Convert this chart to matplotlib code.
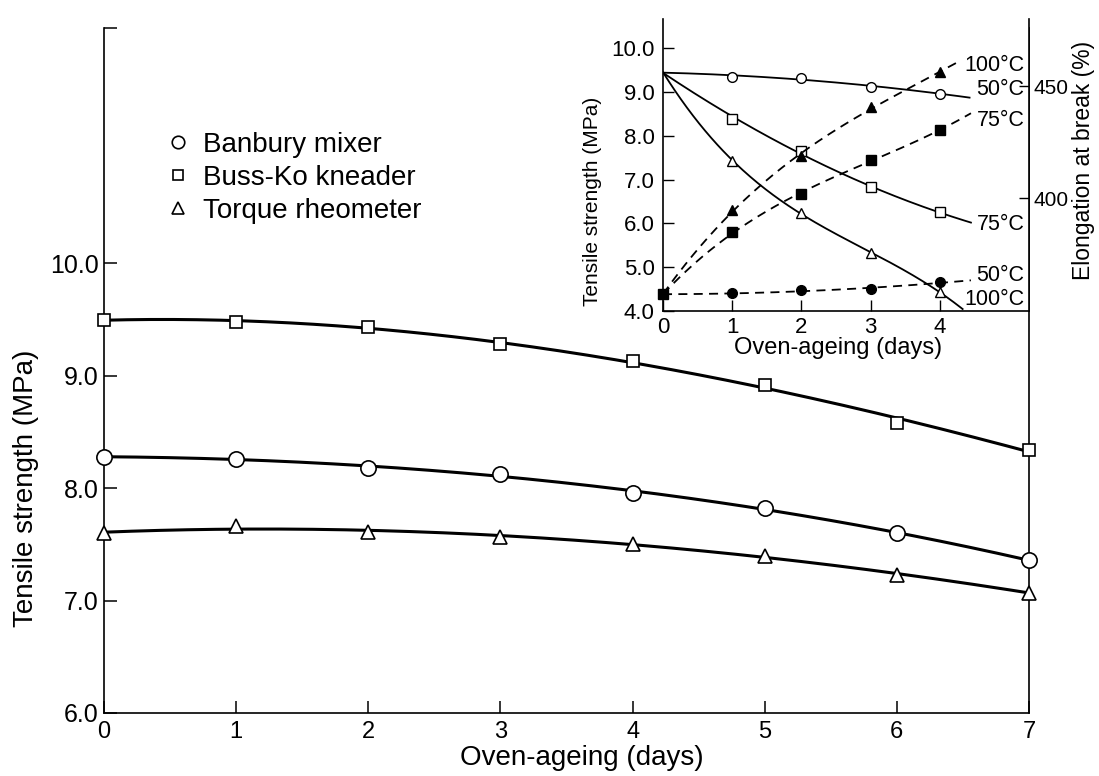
import numpy as np
import matplotlib.pyplot as plt
from matplotlib.lines import Line2D

plt.rcParams['font.family'] = ['Liberation Sans', 'DejaVu Sans']

# main plot: tensile strength vs oven-ageing for three mixers
days = [0, 1, 2, 3, 4, 5, 6, 7]
banbury = [8.28, 8.26, 8.18, 8.13, 7.96, 7.82, 7.60, 7.36]
buss_ko = [9.50, 9.48, 9.43, 9.28, 9.13, 8.92, 8.58, 8.34]
torque = [7.60, 7.66, 7.61, 7.57, 7.50, 7.40, 7.23, 7.07]

# inset: ageing at 50/75/100 C
inset_days = [0, 1, 2, 3, 4]
ts_50 = [9.45, 9.34, 9.32, 9.12, 8.96]
ts_75 = [9.45, 8.39, 7.64, 6.82, 6.25]
ts_100 = [9.45, 7.43, 6.23, 5.33, 4.43]
el_50 = [356.9, 357.4, 358.8, 359.2, 362.3]
el_75 = [356.9, 384.6, 401.8, 416.9, 430.3]
el_100 = [356.9, 394.6, 418.9, 440.5, 456.2]

W, H = 1099, 776
fig = plt.figure(figsize=(W / 100, H / 100), dpi=100)

ax = fig.add_axes([104 / W, 63 / H, 925 / W, 685 / H])
ymax = 6 + 685 / 112.4
ax.set_xlim(0, 7)
ax.set_ylim(6, ymax)


def smooth(x, y, deg, x_end=None):
    p = np.polyfit(x, y, deg)
    xs = np.linspace(x[0], x[-1] if x_end is None else x_end, 200)
    return xs, np.polyval(p, xs)


for ys, mk, ms in [(buss_ko, 's', 8), (banbury, 'o', 11), (torque, '^', 10)]:
    xs, yf = smooth(days, ys, 3)
    ax.plot(xs, yf, color='black', lw=2.2, zorder=2)
    ax.plot(days, ys, ls='none', marker=mk, ms=ms, mfc='white', mec='black',
            mew=1.2, zorder=3, clip_on=False)

ax.spines['top'].set_visible(False)
for s in ['left', 'right', 'bottom']:
    ax.spines[s].set_linewidth(1.2)
ax.set_xticks(days)
ax.set_yticks([6, 7, 8, 9, 10, ymax])
ax.set_yticklabels(['6.0', '7.0', '8.0', '9.0', '10.0', ''])
ax.tick_params(direction='in', length=9, width=1.1)
ax.tick_params(axis='y', labelsize=18, pad=4)
ax.tick_params(axis='x', labelsize=17, pad=6)
ax.set_xlabel('Oven-ageing (days)', fontsize=20)
ax.xaxis.set_label_coords(0.517, -0.046)
ax.set_ylabel('Tensile strength (MPa)', fontsize=20)
ax.yaxis.set_label_coords(-0.07, 0.328)

handles = [
    Line2D([], [], ls='none', marker='o', ms=9, mfc='white', mec='black', mew=1.2),
    Line2D([], [], ls='none', marker='s', ms=7, mfc='white', mec='black', mew=1.2),
    Line2D([], [], ls='none', marker='^', ms=9, mfc='white', mec='black', mew=1.2),
]
fig.legend(handles, ['Banbury mixer', 'Buss-Ko kneader', 'Torque rheometer'],
           loc='upper left', bbox_to_anchor=(164 / W, 1 - 132 / H),
           frameon=False, fontsize=20, handlelength=1.0, handletextpad=0.4,
           labelspacing=0.25, borderpad=0, borderaxespad=0)

# inset
ax_in = fig.add_axes([663 / W, 465 / H, 366 / W, 292 / H])
ax_in.set_xlim(0, 366 / 69.2)
ax_in.set_ylim(4.0, 4.0 + 292 / 43.83)
ax_el = ax_in.twinx()
ax_el.set_ylim(349.5, 480)

for ys, mk, deg, xe in [(ts_50, 'o', 2, 4.43), (ts_75, 's', 2, 4.45), (ts_100, '^', 3, 4.33)]:
    xs, yf = smooth(inset_days, ys, deg, xe)
    ax_in.plot(xs, yf, color='black', lw=1.3, zorder=2)
    ax_in.plot(inset_days[1:], ys[1:], ls='none', marker=mk, ms=7, mfc='white',
               mec='black', mew=1.0, zorder=3)

for ys, mk, deg, xe in [(el_50, 'o', 2, 4.45), (el_75, 's', 3, 4.45), (el_100, '^', 3, 4.3)]:
    xs, yf = smooth(inset_days, ys, deg, xe)
    ax_el.plot(xs, yf, color='black', lw=1.3, ls=(0, (5, 3.5)), zorder=2)
    ax_el.plot(inset_days[1:], ys[1:], ls='none', marker=mk, ms=7, color='black', zorder=3)
ax_el.plot([inset_days[0]], [el_50[0]], ls='none', marker='s', ms=7, color='black',
           clip_on=False, zorder=3)

ax_in.spines['top'].set_visible(False)
ax_in.spines['right'].set_visible(False)
ax_el.spines['top'].set_visible(False)
ax_el.spines['left'].set_visible(False)
ax_el.spines['bottom'].set_visible(False)
for s in ['left', 'bottom']:
    ax_in.spines[s].set_linewidth(1.2)
ax_el.spines['right'].set_linewidth(1.2)

ax_in.set_xticks([0, 1, 2, 3, 4])
ax_in.set_yticks([4, 5, 6, 7, 8, 9, 10])
ax_in.set_yticklabels(['4.0', '5.0', '6.0', '7.0', '8.0', '9.0', '10.0'])
ax_in.tick_params(direction='in', length=8, width=1.0, labelsize=16)
ax_in.tick_params(axis='y', pad=6)
ax_in.tick_params(axis='x', pad=4)
ax_el.set_yticks([400, 450])
ax_el.tick_params(direction='in', length=7, width=1.0, labelsize=15, pad=3)

ax_in.set_xlabel('Oven-ageing (days)', fontsize=17)
ax_in.xaxis.set_label_coords(0.478, -0.09)
ax_in.set_ylabel('Tensile strength (MPa)', fontsize=15)
ax_in.yaxis.set_label_coords(-0.167, 0.377)
ax_el.set_ylabel('Elongation at break (%)', fontsize=16.5, rotation=90)
ax_el.yaxis.set_label_coords(1.118, 0.515)

for txt, yf in [('100°C', 0.842), ('50°C', 0.757), ('75°C', 0.651),
                ('75°C', 0.295), ('50°C', 0.123), ('100°C', 0.038)]:
    ax_in.text(0.988, yf, txt, transform=ax_in.transAxes, ha='right', va='center',
               fontsize=15.5)

fig.savefig('out.png', dpi=100)
